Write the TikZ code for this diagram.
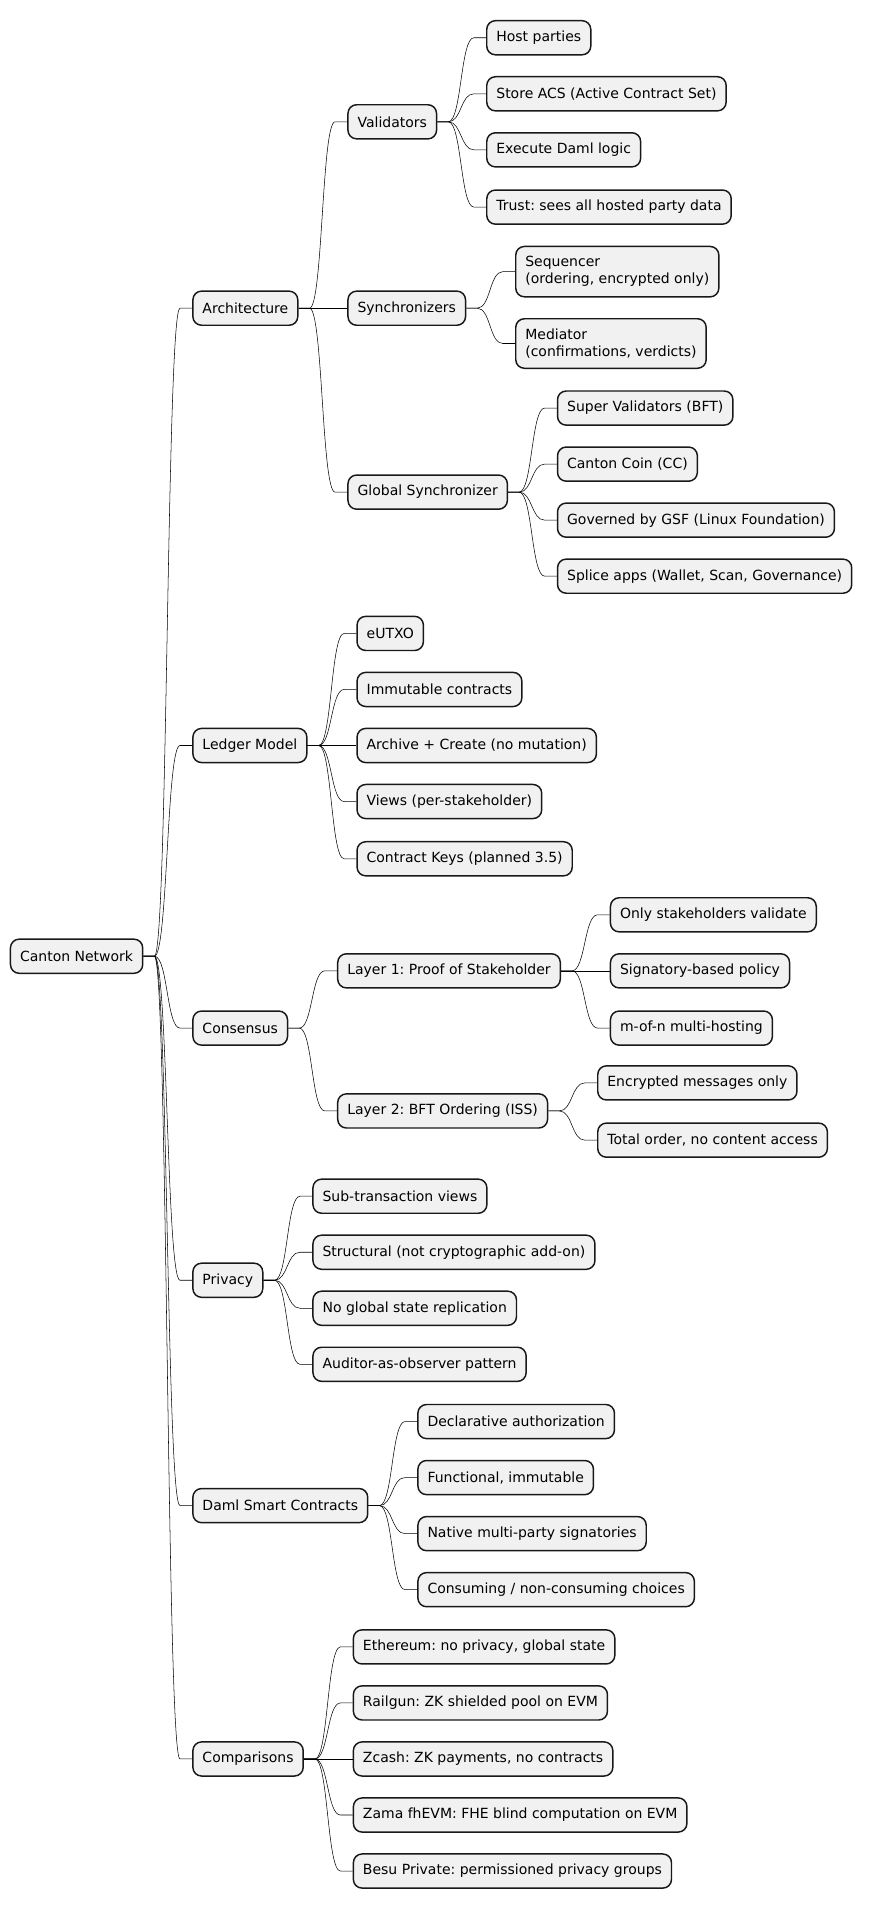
\documentclass[tikz,border=0pt]{standalone}
\usepackage{fontspec}
\setmainfont{DejaVu Sans}
\frenchspacing
\usetikzlibrary{calc}
\definecolor{colFace}{HTML}{F1F1F1}
\definecolor{colEdge}{HTML}{181818}

\begin{document}
\begin{tikzpicture}[
    x=0.9138pt, y=-0.9138pt,
    idea/.style={
        rectangle, rounded corners=6.5pt, draw=colEdge, fill=colFace,
        line width=1.1pt, anchor=west, align=left,
        font=\fontsize{10.5pt}{12.6pt}\selectfont,
        minimum height=25.6pt, inner xsep=7.2pt, inner ysep=4pt
    },
    tallidea/.style={idea, inner ysep=7.6pt},
    twig/.style={
        line width=0.75pt, draw=colEdge,
        to path={-- ++(9,0) .. controls +(11,0) and +(-11,0)
            .. ($(\tikztotarget)+(-10,0)$) -- (\tikztotarget)}
    }
]
    \useasboundingbox (0,0) rectangle (719,1568);

    % --- ROOT ---
    \node[idea] (root) at (8,785) {Canton Network};

    % --- FIRST LEVEL ---
    \foreach \nm/\yy/\txt in {
        arch/253/{Architecture},
        ledger/612/{Ledger Model},
        cons/844/{Consensus},
        priv/1051/{Privacy},
        daml/1236/{Daml Smart Contracts},
        comp/1444/{Comparisons}%
    } {
        \node[idea] (\nm) at ($(root.east |- 0,\yy)+(40,0)$) {\txt};
        \draw (root.east) to[twig] (\nm.west);
    }

    % --- ARCHITECTURE ---
    \foreach \nm/\yy/\txt in {
        valid/100/{Validators},
        sync/253/{Synchronizers},
        gsync/404/{Global Synchronizer}%
    } {
        \node[idea] (\nm) at ($(arch.east |- 0,\yy)+(40,0)$) {\txt};
        \draw (arch.east) to[twig] (\nm.west);
    }

    \foreach \yy/\txt [count=\i] in {
        31/{Host parties},
        77/{Store ACS (Active Contract Set)},
        123/{Execute Daml logic},
        170/{Trust: sees all hosted party data}%
    } {
        \node[idea] (valid\i) at ($(valid.east |- 0,\yy)+(40,0)$) {\txt};
        \draw (valid.east) to[twig] (valid\i.west);
    }

    \node[tallidea] (sync1) at ($(sync.east |- 0,223)+(40,0)$)
        {Sequencer\\(ordering, encrypted only)};
    \node[tallidea] (sync2) at ($(sync.east |- 0,282)+(40,0)$)
        {Mediator\\(confirmations, verdicts)};
    \draw (sync.east) to[twig] (sync1.west);
    \draw (sync.east) to[twig] (sync2.west);

    \foreach \yy/\txt [count=\i] in {
        335/{Super Validators (BFT)},
        381/{Canton Coin (CC)},
        427/{Governed by GSF (Linux Foundation)},
        473/{Splice apps (Wallet, Scan, Governance)}%
    } {
        \node[idea] (gsync\i) at ($(gsync.east |- 0,\yy)+(40,0)$) {\txt};
        \draw (gsync.east) to[twig] (gsync\i.west);
    }

    % --- LEDGER MODEL ---
    \foreach \yy/\txt [count=\i] in {
        520/{eUTXO},
        566/{Immutable contracts},
        612/{Archive + Create (no mutation)},
        658/{Views (per-stakeholder)},
        705/{Contract Keys (planned 3.5)}%
    } {
        \node[idea] (ledger\i) at ($(ledger.east |- 0,\yy)+(40,0)$) {\txt};
        \draw (ledger.east) to[twig] (ledger\i.west);
    }

    % --- CONSENSUS ---
    \foreach \nm/\yy/\txt in {
        layA/797/{Layer 1: Proof of Stakeholder},
        layB/912/{Layer 2: BFT Ordering (ISS)}%
    } {
        \node[idea] (\nm) at ($(cons.east |- 0,\yy)+(40,0)$) {\txt};
        \draw (cons.east) to[twig] (\nm.west);
    }

    \foreach \yy/\txt [count=\i] in {
        751/{Only stakeholders validate},
        797/{Signatory-based policy},
        844/{m-of-n multi-hosting}%
    } {
        \node[idea] (layA\i) at ($(layA.east |- 0,\yy)+(40,0)$) {\txt};
        \draw (layA.east) to[twig] (layA\i.west);
    }

    \foreach \yy/\txt [count=\i] in {
        889/{Encrypted messages only},
        936/{Total order, no content access}%
    } {
        \node[idea] (layB\i) at ($(layB.east |- 0,\yy)+(40,0)$) {\txt};
        \draw (layB.east) to[twig] (layB\i.west);
    }

    % --- PRIVACY ---
    \foreach \yy/\txt [count=\i] in {
        982/{Sub-transaction views},
        1028/{Structural (not cryptographic add-on)},
        1074/{No global state replication},
        1120/{Auditor-as-observer pattern}%
    } {
        \node[idea] (priv\i) at ($(priv.east |- 0,\yy)+(40,0)$) {\txt};
        \draw (priv.east) to[twig] (priv\i.west);
    }

    % --- DAML ---
    \foreach \yy/\txt [count=\i] in {
        1167/{Declarative authorization},
        1213/{Functional, immutable},
        1259/{Native multi-party signatories},
        1305/{Consuming / non-consuming choices}%
    } {
        \node[idea] (daml\i) at ($(daml.east |- 0,\yy)+(40,0)$) {\txt};
        \draw (daml.east) to[twig] (daml\i.west);
    }

    % --- COMPARISONS ---
    \foreach \yy/\txt [count=\i] in {
        1352/{Ethereum: no privacy, global state},
        1398/{Railgun: ZK shielded pool on EVM},
        1444/{Zcash: ZK payments, no contracts},
        1490/{Zama fhEVM: FHE blind computation on EVM},
        1536/{Besu Private: permissioned privacy groups}%
    } {
        \node[idea] (comp\i) at ($(comp.east |- 0,\yy)+(40,0)$) {\txt};
        \draw (comp.east) to[twig] (comp\i.west);
    }

\end{tikzpicture}
\end{document}
